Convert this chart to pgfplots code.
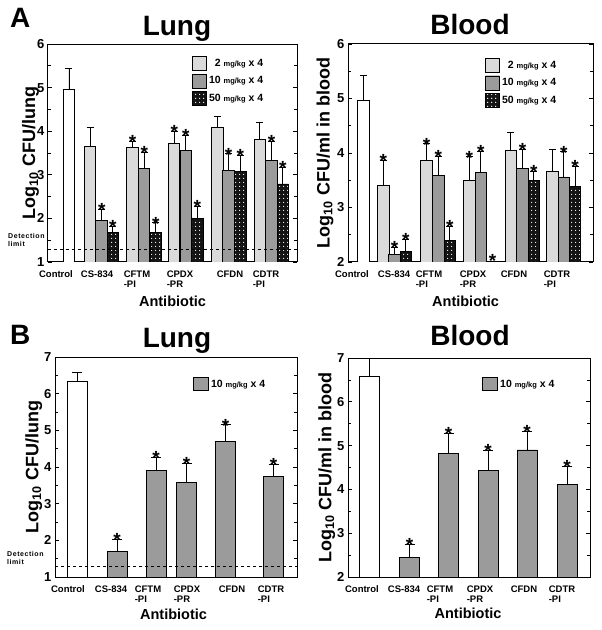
\documentclass[border=0pt]{standalone}
\usepackage{fontspec}
\setmainfont{Liberation Sans}
\usepackage{pgfplots}
\pgfplotsset{compat=1.18}
\usetikzlibrary{patterns.meta}

\tikzset{
 sC/.style={draw=black, line width=0.9pt, fill=white},
 s2/.style={draw=black, line width=0.9pt, fill=gray!12, postaction={pattern={Dots[distance=2pt, radius=0.55pt]}, pattern color=gray!85}},
 s10/.style={draw=black, line width=0.9pt, fill=gray!50, postaction={pattern={Dots[distance=2pt, radius=0.6pt]}, pattern color=black!85}},
 s50/.style={draw=black, line width=0.9pt, fill=black!92, postaction={pattern={Dots[distance=4pt, radius=0.75pt]}, pattern color=white}},
}

\pgfplotsset{
 panel/.style={
  scale only axis, anchor=south west,
  axis line style={line width=1pt},
  tick style={line width=0.8pt, black},
  tick align=inside, major tick length=4pt, minor tick length=3pt,
  minor y tick num=1,
  major x tick style={draw=none},
  /pgf/number format/assume math mode=true,
  y tick label style={font=\bfseries\fontsize{13}{14}\selectfont},
  x tick label style={font=\bfseries\fontsize{9.5}{10.5}\selectfont, align=left, anchor=north, yshift=-5pt},
  ylabel style={font=\bfseries\fontsize{18}{20}\selectfont, anchor=center},
  xlabel style={font=\bfseries\fontsize{14.5}{16}\selectfont, anchor=base},
  title style={font=\bfseries\fontsize{28}{30}\selectfont, anchor=base},
  legend style={draw=none, fill=none, inner sep=0pt, row sep=2.5pt, anchor=north west,
     font=\bfseries\fontsize{10.5}{12}\selectfont, nodes={inner sep=2pt}},
  legend cell align=left,
  error bars/error bar style={line width=0.9pt, black},
  error bars/error mark options={rotate=90, mark size=3.5pt, line width=0.9pt, black},
 },
 barsA/.style={ybar, bar width=11.5, bar shift=0pt,
  error bars/y dir=plus, error bars/y explicit},
 barsB/.style={ybar, bar width=20, bar shift=0pt,
  error bars/y dir=plus, error bars/y explicit,
  error bars/error mark options={rotate=90, mark size=5pt, line width=0.9pt, black}},
 stars/.style={only marks, mark=none, nodes near coords={*},
  every node near coord/.append style={font=\bfseries\fontsize{19}{19}\selectfont, anchor=south, inner sep=0pt, yshift=-7.5pt}},
 legA/.style={legend image code/.code={\draw[##1] (0pt,-7pt) rectangle (14pt,7pt);}},
 legB/.style={legend image code/.code={\draw[##1] (0pt,-6.5pt) rectangle (15pt,6.5pt);}},
}
\newcommand{\dose}[1]{#1 {\fontsize{7.5}{8}\selectfont mg/kg} x 4}

\begin{document}
\begin{tikzpicture}
\useasboundingbox (0,0) rectangle (602pt,630pt);

% ---------------- A: Lung ----------------
\begin{axis}[panel, legA,
 at={(48pt,368pt)}, width=249pt, height=218pt,
 xmin=48, xmax=297, ymin=1, ymax=6, ytick={1,2,3,4,5,6},
 xtick={56,97,137,180,230,266},
 xticklabels={Control,CS-834,CFTM\\-PI,CPDX\\-PR,CFDN,CDTR\\-PI},
 title={Lung}, title style={at={(axis description cs:0.518,1)}, yshift=3pt},
 xlabel={Antibiotic}, xlabel style={at={(axis description cs:0.5,0)}, yshift=-45pt},
 ylabel={Log\textsubscript{10} CFU/lung}, ylabel style={at={(axis description cs:-0.070,0.5)}},
 legend style={at={(axis description cs:0.578,0.945)}},
]
\addplot[barsA, sC, forget plot] coordinates {(69,4.95) +- (0,0.49)};
\addplot[barsA, s2] coordinates {
 (90.2,3.65) +- (0,0.43) (132.5,3.62) +- (0,0.15) (174.2,3.73) +- (0,0.27)
 (217.2,4.08) +- (0,0.25) (259.8,3.82) +- (0,0.38)};
\addlegendentry{\phantom{1}\dose{2}}
\addplot[barsA, s10] coordinates {
 (101.7,1.95) +- (0,0.26) (144.2,3.15) +- (0,0.37) (185.8,3.56) +- (0,0.34)
 (228.5,3.10) +- (0,0.38) (271.5,3.32) +- (0,0.45)};
\addlegendentry{\dose{10}}
\addplot[barsA, s50] coordinates {
 (112.8,1.67) +- (0,0.14) (155.8,1.68) +- (0,0.22) (197.2,2.00) +- (0,0.27)
 (240.2,3.08) +- (0,0.36) (282.8,2.79) +- (0,0.38)};
\addlegendentry{\dose{50}}
\addplot[dashed, line width=0.8pt, forget plot] coordinates {(48,1.3) (297,1.3)};
\addplot[stars, forget plot] coordinates {
 (101.7,2.21) (112.8,1.81) (132.5,3.77) (144.2,3.52) (155.8,1.90)
 (174.2,4.00) (185.8,3.90) (197.2,2.27) (228.5,3.48) (240.2,3.44)
 (271.5,3.77) (282.8,3.17)};
\end{axis}

% ---------------- A: Blood ----------------
\begin{axis}[panel, legA,
 at={(348pt,368pt)}, width=245pt, height=218pt,
 xmin=348, xmax=593, ymin=2, ymax=6, ytick={2,3,4,5,6},
 xtick={352,394,429,473,514,557},
 xticklabels={Control,CS-834,CFTM\\-PI,CPDX\\-PR,CFDN,CDTR\\-PI},
 title={Blood}, title style={at={(axis description cs:0.498,1)}, yshift=3pt},
 xlabel={Antibiotic}, xlabel style={at={(axis description cs:0.48,0)}, yshift=-45pt},
 ylabel={Log\textsubscript{10} CFU/ml in blood}, ylabel style={at={(axis description cs:-0.094,0.5)}},
 legend style={at={(axis description cs:0.559,0.936)}},
]
\addplot[barsA, sC, forget plot] coordinates {(363.2,4.97) +- (0,0.45)};
\addplot[barsA, s2] coordinates {
 (383.2,3.40) +- (0,0.47) (426.5,3.86) +- (0,0.31) (469.2,3.50) +- (0,0.43)
 (510.8,4.05) +- (0,0.32) (552.5,3.67) +- (0,0.40)};
\addlegendentry{\phantom{1}\dose{2}}
\addplot[barsA, s10] coordinates {
 (394.5,2.13) +- (0,0.14) (438.2,3.58) +- (0,0.36) (480.8,3.64) +- (0,0.39)
 (522.5,3.71) +- (0,0.36) (563.8,3.56) +- (0,0.46)};
\addlegendentry{\dose{10}}
\addplot[barsA, s50] coordinates {
 (405.8,2.20) +- (0,0.21) (449.8,2.39) +- (0,0.27)
 (533.8,3.50) +- (0,0.16) (575.0,3.38) +- (0,0.38)};
\addlegendentry{\dose{50}}
\addplot[stars, forget plot] coordinates {
 (383.2,3.87) (394.5,2.27) (405.8,2.41) (426.5,4.17) (438.2,3.94) (449.8,2.66)
 (469.2,3.93) (480.8,4.03) (492.5,2.04) (522.5,4.07) (533.8,3.66)
 (563.8,4.02) (575.0,3.76)};
\end{axis}

% ---------------- B: Lung ----------------
\begin{axis}[panel, legB,
 at={(55pt,53pt)}, width=242pt, height=220pt,
 xmin=55, xmax=297, ymin=1, ymax=7, ytick={1,2,3,4,5,6,7},
 xtick={68,111,148,187,232,271},
 xticklabels={Control,CS-834,CFTM\\-PI,CPDX\\-PR,CFDN,CDTR\\-PI},
 title={Lung}, title style={at={(axis description cs:0.504,1)}, yshift=4pt},
 xlabel={Antibiotic}, xlabel style={at={(axis description cs:0.49,0)}, yshift=-42pt},
 ylabel={Log\textsubscript{10} CFU/lung}, ylabel style={at={(axis description cs:-0.088,0.5)}},
 legend style={at={(axis description cs:0.570,0.909)}},
]
\addplot[barsB, sC, forget plot] coordinates {(77.5,6.32) +- (0,0.25)};
\addplot[barsB, s10] coordinates {
 (117,1.70) +- (0,0.33) (156,3.90) +- (0,0.36) (186.5,3.58) +- (0,0.52)
 (225.5,4.69) +- (0,0.46) (273.5,3.74) +- (0,0.34)};
\addlegendentry{\dose{10}}
\addplot[dashed, line width=0.8pt, forget plot] coordinates {(55,1.3) (297,1.3)};
\addplot[stars, forget plot] coordinates {
 (117,2.03) (156,4.26) (186.5,4.10) (225.5,5.15) (273.5,4.08)};
\end{axis}

% ---------------- B: Blood ----------------
\begin{axis}[panel, legB,
 at={(348pt,53pt)}, width=242pt, height=219pt,
 xmin=348, xmax=590, ymin=2, ymax=7, ytick={2,3,4,5,6,7},
 xtick={362,404,440,480,524,562},
 xticklabels={Control,CS-834,CFTM\\-PI,CPDX\\-PR,CFDN,CDTR\\-PI},
 title={Blood}, title style={at={(axis description cs:0.504,1)}, yshift=7pt},
 xlabel={Antibiotic}, xlabel style={at={(axis description cs:0.496,0)}, yshift=-41pt},
 ylabel={Log\textsubscript{10} CFU/ml in blood}, ylabel style={at={(axis description cs:-0.088,0.5)}},
 legend style={at={(axis description cs:0.554,0.913)}},
]
\addplot[barsB, sC, forget plot] coordinates {(369.7,6.58) +- (0,0.40)};
\addplot[barsB, s10] coordinates {
 (409.5,2.45) +- (0,0.30) (448.5,4.82) +- (0,0.46) (488,4.43) +- (0,0.47)
 (527,4.90) +- (0,0.43) (567,4.12) +- (0,0.40)};
\addlegendentry{\dose{10}}
\addplot[stars, forget plot] coordinates {
 (409.5,2.75) (448.5,5.28) (488,4.90) (527,5.33) (567,4.52)};
\end{axis}

% panel letters and detection-limit notes
\node[anchor=base west, inner sep=0pt, font=\bfseries\fontsize{28}{30}\selectfont] at (10pt,602pt) {A};
\node[anchor=base west, inner sep=0pt, font=\bfseries\fontsize{28}{30}\selectfont] at (10pt,285pt) {B};
\node[anchor=base west, inner sep=0pt, align=left, font=\bfseries\fontsize{7}{8}\selectfont\addfontfeatures{LetterSpace=8}] at (8pt,383pt) {Detection\\limit};
\node[anchor=base west, inner sep=0pt, align=left, font=\bfseries\fontsize{7}{8}\selectfont\addfontfeatures{LetterSpace=8}] at (7pt,65pt) {Detection\\limit};
\end{tikzpicture}
\end{document}
